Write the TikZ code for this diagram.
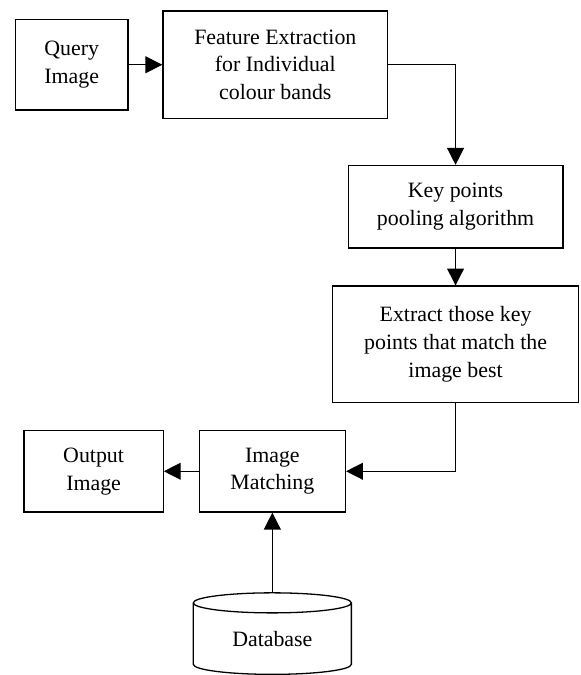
\documentclass[tikz,border=0pt]{standalone}
\usepackage{fontspec}
\setmainfont{Liberation Serif}
\usetikzlibrary{arrows.meta,positioning,calc,shapes.geometric}

\begin{document}
\begin{tikzpicture}[
  font=\fontsize{22}{28}\selectfont,
  box/.style={draw, line width=1.3pt, inner sep=0pt, align=center},
  arr/.style={-{Triangle[length=17pt, width=17pt]}, line width=1.3pt}
]
  % Top row
  \node[box, minimum width=113pt, minimum height=91pt] (query) {Query\\Image};
  \node[box, minimum width=226pt, minimum height=108pt, right=34pt of query] (feat)
    {Feature Extraction\\for Individual\\colour bands};

  % Right column
  \node[box, minimum width=216pt, minimum height=83pt, below right=46pt and -41pt of feat] (keypts)
    {Key points\\pooling algorithm};
  \node[box, minimum width=247pt, minimum height=117pt, below=37pt of keypts] (extract)
    {Extract those key\\points that match the\\image best};

  % Bottom row
  \node[box, minimum width=147pt, minimum height=82pt, below left=27pt and -14pt of extract] (match)
    {Image\\Matching};
  \node[box, minimum width=140pt, minimum height=82pt, left=35pt of match] (output)
    {Output\\Image};

  % Database
  \node[draw, line width=1.3pt, cylinder, shape border rotate=90, aspect=0.25,
        minimum width=159pt, minimum height=82pt, inner sep=0pt,
        below=80pt of match] (db) {Database};

  % Connectors
  \draw[arr] (query.east) -- (feat.west);
  \draw[arr] (feat.east) -| (keypts.north);
  \draw[arr] (keypts.south) -- (extract.north);
  \draw[arr] (extract.south) |- (match.east);
  \draw[arr] (match.west) -- (output.east);
  \draw[arr] (db.north) -- (match.south);

  \useasboundingbox ($(query.north west)+(-15pt,19pt)$) rectangle ($(query.north west)+(569pt,-656pt)$);
\end{tikzpicture}
\end{document}
